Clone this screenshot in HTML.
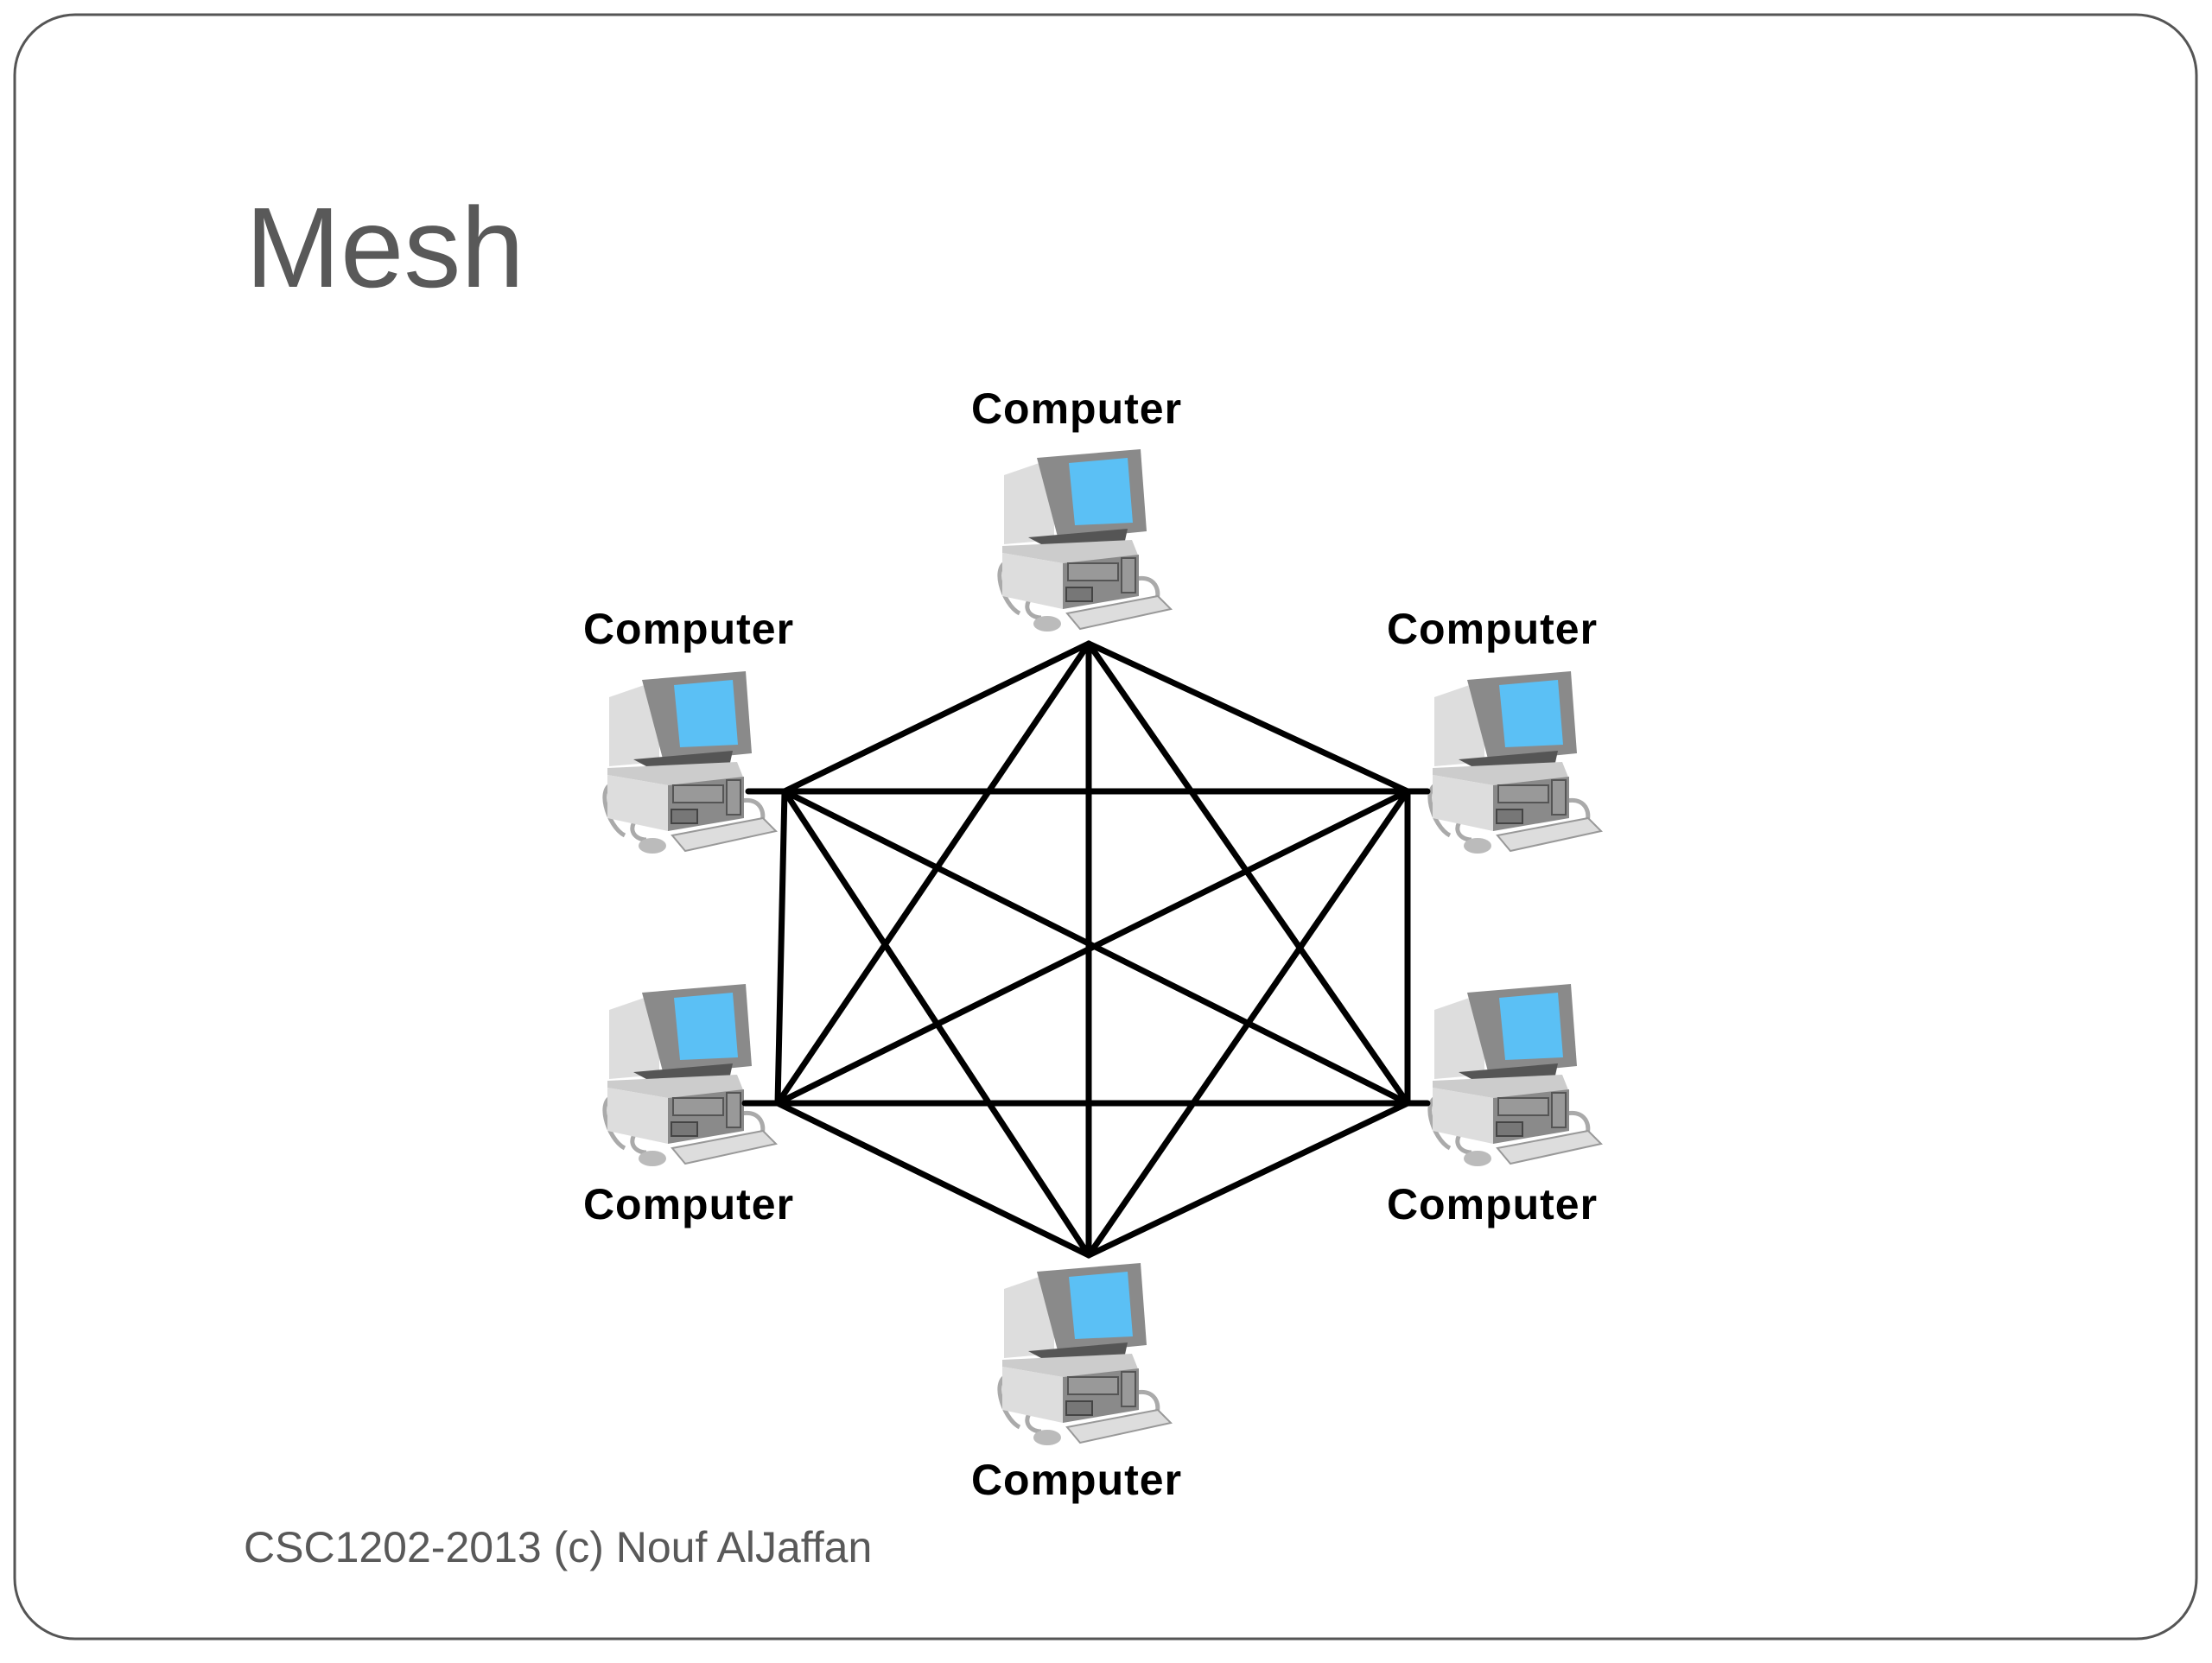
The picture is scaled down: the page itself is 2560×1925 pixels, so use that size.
<!DOCTYPE html>
<html><head><style>
body{margin:0;background:#fff;width:2560px;height:1920px;overflow:hidden;font-family:"Liberation Sans",sans-serif}
</style></head><body>
<svg width="2560" height="1920" viewBox="0 0 2560 1920" xmlns="http://www.w3.org/2000/svg">
<defs>
<g id="pc">
<path d="M40 210 C20 200 5 150 30 150 C50 150 60 175 80 175 M175 170 C200 165 205 190 195 200 M60 185 C40 200 50 215 65 215" fill="none" stroke="#aaa" stroke-width="5"/>
<ellipse cx="72" cy="222" rx="16" ry="9" fill="#bbb"/>
<polygon points="22,50 80,30 80,125 22,130" fill="#ddd"/>
<polygon points="60,30 180,20 187,115 85,125" fill="#8a8a8a"/>
<polygon points="97,36 165,30 171,105 104,108" fill="#5bc0f5"/>
<polygon points="50,122 165,112 160,135 80,138" fill="#555"/>
<polygon points="20,132 170,125 178,145 90,152 20,140" fill="#ccc"/>
<polygon points="20,140 90,152 90,205 20,190" fill="#ddd"/>
<polygon points="90,152 178,142 178,190 90,205" fill="#8a8a8a"/>
<rect x="96" y="152" width="58" height="20" fill="#999" stroke="#555" stroke-width="2"/>
<rect x="158" y="146" width="16" height="40" fill="#999" stroke="#555" stroke-width="2"/>
<rect x="94" y="180" width="30" height="16" fill="#777" stroke="#444" stroke-width="2"/>
<polygon points="95,210 200,190 215,205 110,228" fill="#ddd" stroke="#999" stroke-width="2"/>
</g>
</defs>
<rect x="17" y="17" width="2525" height="1880" rx="70" fill="#fff" stroke="#555" stroke-width="3"/>
<text x="284" y="332" font-size="132" fill="#595959">Mesh</text>
<use href="#pc" x="1140" y="500"/>
<use href="#pc" x="683" y="757"/>
<use href="#pc" x="1638" y="757"/>
<use href="#pc" x="683" y="1119"/>
<use href="#pc" x="1638" y="1119"/>
<use href="#pc" x="1140" y="1442"/>
<g stroke="#000" stroke-width="7" fill="none" stroke-linecap="round">
<path d="M1260 745 L908 916 L900 1277 L1260 1453 L1629 1277 L1629 916 Z"/>
<path d="M1260 745 L1260 1453 M908 916 L1629 916 M900 1277 L1629 1277 M908 916 L1629 1277 M900 1277 L1629 916 M1260 745 L900 1277 M1260 745 L1629 1277 M1260 1453 L908 916 M1260 1453 L1629 916"/>
<path d="M866 916 L908 916 M862 1277 L900 1277 M1629 916 L1652 916 M1629 1277 L1652 1277"/>
</g>
<g font-size="50" font-weight="bold" text-anchor="middle" fill="#000" letter-spacing="1">
<text x="1246" y="490">Computer</text>
<text x="797" y="745">Computer</text>
<text x="1727" y="745">Computer</text>
<text x="797" y="1411">Computer</text>
<text x="1727" y="1411">Computer</text>
<text x="1246" y="1730">Computer</text>
</g>
<text x="282" y="1808" font-size="50" fill="#595959">CSC1202-2013 (c) Nouf AlJaffan</text>
</svg>
</body></html>
